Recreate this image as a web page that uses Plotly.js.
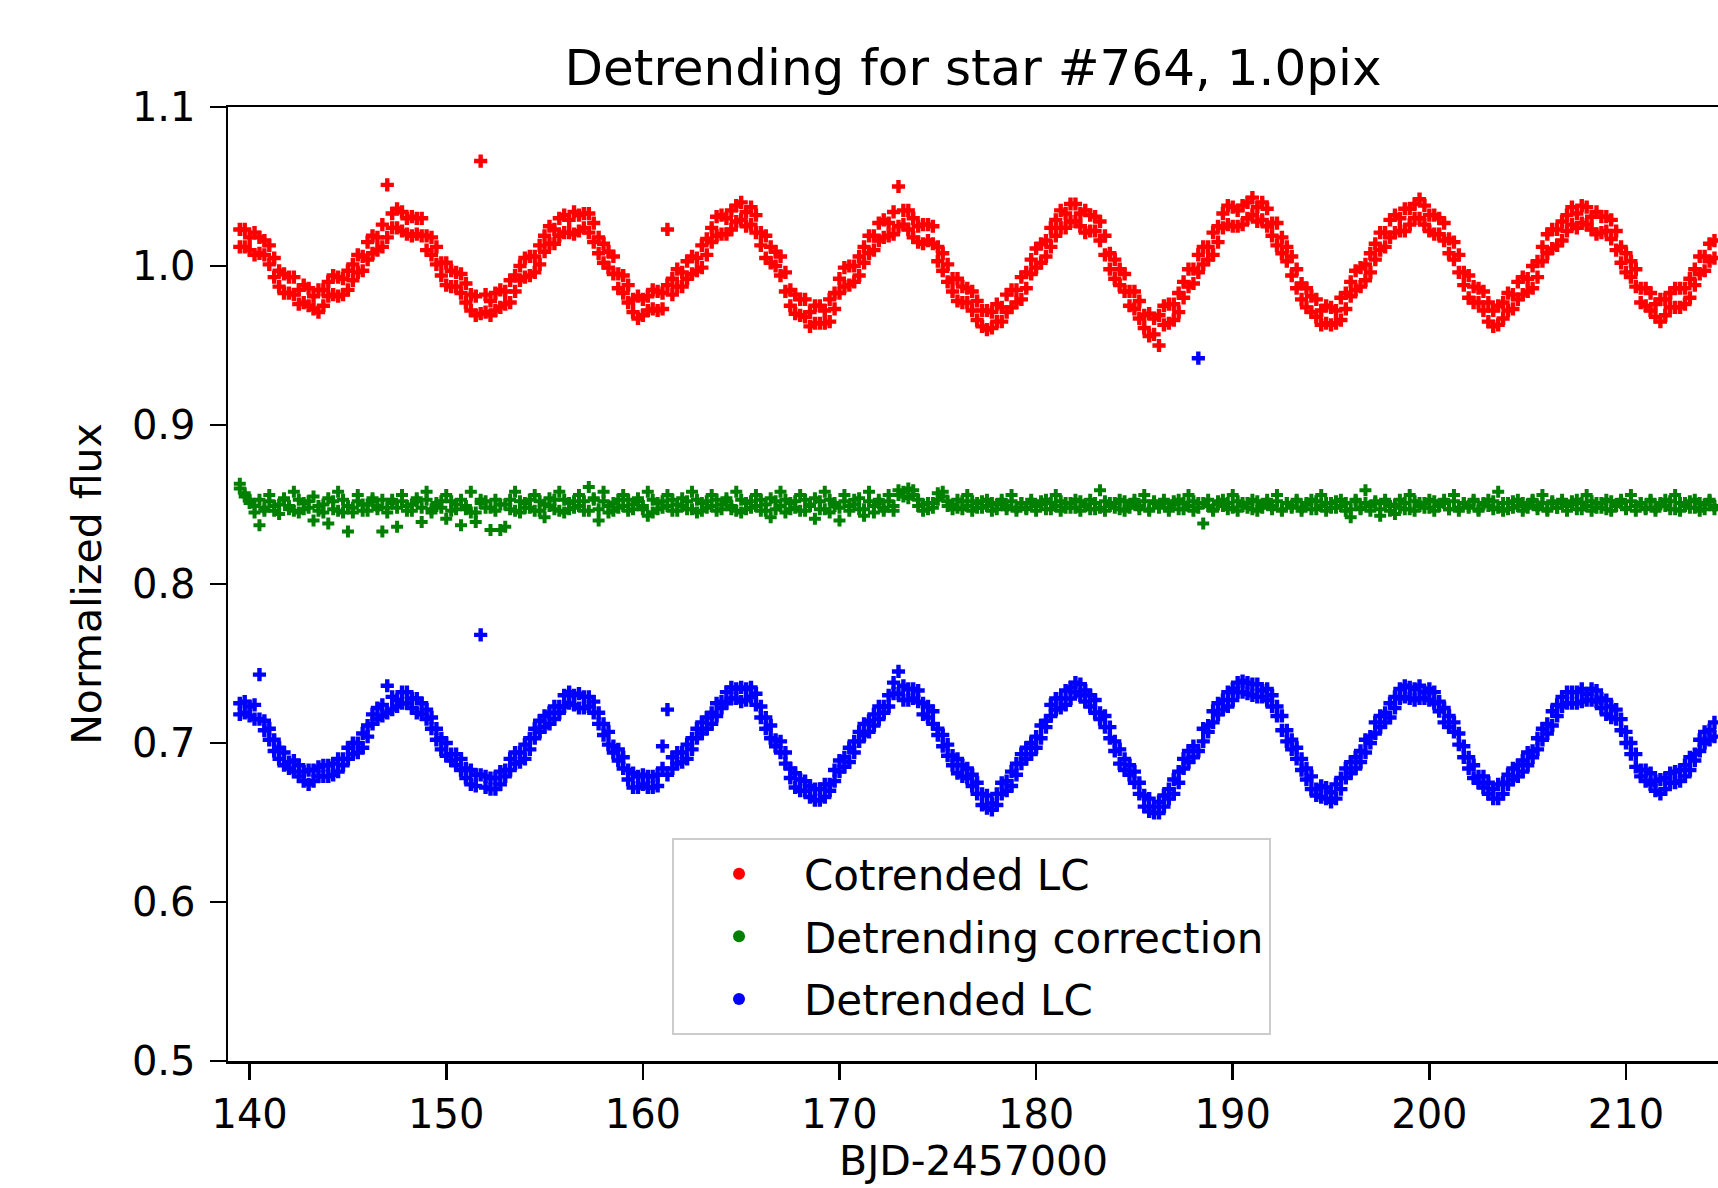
<!DOCTYPE html>
<html>
<head>
<meta charset="utf-8">
<script src="https://cdn.plot.ly/plotly-3.0.1.min.js"></script>
<style>html,body{margin:0;padding:0;background:#fff;}#chart{width:1718px;height:1188px;}</style>
</head>
<body>
<div id="chart"></div>
<script>
// ---- data ----
const chartTitle = "Detrending for star #764, 1.0pix";
const xAxisLabel = "BJD-2457000";
const yAxisLabel = "Normalized flux";
const seriesNames = ["Cotrended LC", "Detrending correction", "Detrended LC"];
const seriesColors = ["#ff0000", "#008000", "#0000ff"];
const xTickVals = [140, 150, 160, 170, 180, 190, 200, 210];
const xTickText = ["140", "150", "160", "170", "180", "190", "200", "210"];
const yTickVals = [0.5, 0.6, 0.7, 0.8, 0.9, 1.0, 1.1];
const yTickText = ["0.5", "0.6", "0.7", "0.8", "0.9", "1.0", "1.1"];

// observation times (BJD-2457000)
const days = [
139.5,139.75,
140,140.25,140.5,140.75, 141,141.25,141.5,141.75, 142,142.25,142.5,142.75, 143,143.25,143.5,143.75,
144,144.25,144.5,144.75, 145,145.25,145.5,145.75, 146,146.25,146.5,146.75, 147,147.25,147.5,147.75,
148,148.25,148.5,148.75, 149,149.25,149.5,149.75, 150,150.25,150.5,150.75, 151,151.25,151.5,151.75,
152,152.25,152.5,152.75, 153,153.25,153.5,153.75, 154,154.25,154.5,154.75, 155,155.25,155.5,155.75,
156,156.25,156.5,156.75, 157,157.25,157.5,157.75, 158,158.25,158.5,158.75, 159,159.25,159.5,159.75,
160,160.25,160.5,160.75, 161,161.25,161.5,161.75, 162,162.25,162.5,162.75, 163,163.25,163.5,163.75,
164,164.25,164.5,164.75, 165,165.25,165.5,165.75, 166,166.25,166.5,166.75, 167,167.25,167.5,167.75,
168,168.25,168.5,168.75, 169,169.25,169.5,169.75, 170,170.25,170.5,170.75, 171,171.25,171.5,171.75,
172,172.25,172.5,172.75, 173,173.25,173.5,173.75, 174,174.25,174.5,174.75, 175,175.25,175.5,175.75,
176,176.25,176.5,176.75, 177,177.25,177.5,177.75, 178,178.25,178.5,178.75, 179,179.25,179.5,179.75,
180,180.25,180.5,180.75, 181,181.25,181.5,181.75, 182,182.25,182.5,182.75, 183,183.25,183.5,183.75,
184,184.25,184.5,184.75, 185,185.25,185.5,185.75, 186,186.25,186.5,186.75, 187,187.25,187.5,187.75,
188,188.25,188.5,188.75, 189,189.25,189.5,189.75, 190,190.25,190.5,190.75, 191,191.25,191.5,191.75,
192,192.25,192.5,192.75, 193,193.25,193.5,193.75, 194,194.25,194.5,194.75, 195,195.25,195.5,195.75,
196,196.25,196.5,196.75, 197,197.25,197.5,197.75, 198,198.25,198.5,198.75, 199,199.25,199.5,199.75,
200,200.25,200.5,200.75, 201,201.25,201.5,201.75, 202,202.25,202.5,202.75, 203,203.25,203.5,203.75,
204,204.25,204.5,204.75, 205,205.25,205.5,205.75, 206,206.25,206.5,206.75, 207,207.25,207.5,207.75,
208,208.25,208.5,208.75, 209,209.25,209.5,209.75, 210,210.25,210.5,210.75, 211,211.25,211.5,211.75,
212,212.25,212.5,212.75, 213,213.25,213.5,213.75,
214,214.25,214.5
];

// Cotrended LC: two readings per time (upper / lower part of the noisy band)
const cotrendedLC = [
1.023,1.012,
1.018,1.007,1.018,1.007, 1.013,0.993,0.997,0.983, 0.993,0.982,0.985,0.988, 0.975,0.981,0.971,0.985,
0.981,0.994,0.981,0.992, 0.985,1.001,0.996,1.006, 1.015,1.008,1.018,1.012, 1.051,1.024,1.036,1.022,
1.030,1.019,1.030,1.019, 1.019,1.018,1.001,1.002, 0.988,0.997,0.987,0.995, 0.977,0.982,0.969,1.066,
0.971,0.978,0.983,0.974, 0.984,0.977,0.994,0.991, 1.005,0.994,1.006,1.001, 1.019,1.014,1.023,1.030,
1.021,1.029,1.020,1.032, 1.024,1.033,1.015,1.018, 1.002,1.009,0.995,0.995, 0.994,0.977,0.979,0.967,
0.979,0.972,0.985,0.972, 0.983,1.023,0.992,0.987, 0.996,1.003,0.995,1.005, 0.999,1.017,1.015,1.031,
1.020,1.030,1.023,1.038, 1.029,1.034,1.037,1.021, 1.021,1.005,1.012,1.000, 1.006,0.984,0.985,0.970,
0.979,0.968,0.971,0.975, 0.964,0.972,0.965,0.983, 0.983,0.999,0.988,1.000, 0.994,1.012,1.008,1.019,
1.027,1.018,1.027,1.020, 1.050,1.026,1.035,1.018, 1.025,1.014,1.026,1.014, 1.012,1.008,0.990,0.992,
0.978,0.987,0.977,0.984, 0.966,0.972,0.960,0.971, 0.965,0.974,0.982,0.974, 0.985,0.979,0.996,0.995,
1.011,1.002,1.016,1.012, 1.029,1.024,1.033,1.039, 1.028,1.033,1.021,1.032, 1.022,1.028,1.007,1.008,
0.992,0.998,0.984,0.984, 0.984,0.967,0.969,0.956, 0.967,0.950,0.975,0.964, 0.976,0.971,0.990,0.987,
0.998,1.007,1.001,1.012, 1.007,1.025,1.024,1.038, 1.025,1.035,1.026,1.040, 1.032,1.037,1.040,1.025,
1.027,1.013,1.018,1.003, 1.006,0.986,0.989,0.974, 0.981,0.968,0.972,0.975, 0.963,0.972,0.966,0.983,
0.981,0.997,0.987,1.001, 0.996,1.014,1.010,1.021, 1.029,1.021,1.030,1.022, 1.036,1.030,1.042,1.026,
1.032,1.020,1.030,1.016, 1.017,1.015,0.996,0.996, 0.980,0.987,0.977,0.984, 0.965,0.972,0.963,0.977,
0.972,0.982,0.990,0.982, 0.992,0.986,1.003,1.003, 1.020,1.011,1.023,1.016, 1.032,1.026,1.033,1.038,
1.026,1.031,1.020,1.031, 1.022,1.029,1.010,1.012, 0.996,1.003,0.987,0.986, 0.986,0.972,0.976,0.965,
0.979,0.974,0.986,0.974, 0.986,0.980,0.998,0.995,
1.006,1.014,1.005
];
const cotrendedLCb = [
1.012,1.023,
1.010,1.021,1.008,1.016, 1.001,1.005,0.987,0.995, 0.983,0.993,0.976,0.977, 0.986,0.973,0.985,0.975,
0.990,0.982,0.993,0.982, 0.997,0.991,1.007,0.997, 1.004,1.019,1.010,1.026, 1.018,1.033,1.024,1.034,
1.020,1.031,1.020,1.030, 1.010,1.007,1.012,0.994, 1.002,0.987,0.996,0.983, 0.989,0.972,0.981,0.970,
0.982,0.969,0.972,0.985, 0.976,0.991,0.984,1.000, 0.993,1.006,0.996,1.013, 1.009,1.025,1.014,1.019,
1.032,1.021,1.034,1.022, 1.033,1.021,1.027,1.008, 1.014,0.999,1.006,0.986, 0.983,0.988,0.971,0.981,
0.969,0.981,0.973,0.984, 0.973,0.988,0.982,0.998, 0.987,0.992,1.006,0.997, 1.013,1.007,1.024,1.019,
1.032,1.020,1.035,1.028, 1.040,1.025,1.026,1.032, 1.013,1.019,1.002,1.009, 0.994,0.996,0.975,0.982,
0.969,0.979,0.962,0.964, 0.975,0.964,0.979,0.973, 0.992,0.987,1.000,0.990, 1.006,1.002,1.019,1.010,
1.016,1.029,1.019,1.034, 1.025,1.035,1.023,1.030, 1.015,1.026,1.016,1.025, 1.003,0.997,1.001,0.984,
0.992,0.977,0.986,0.972, 0.978,0.962,0.972,0.961, 0.976,0.965,0.971,0.985, 0.977,0.993,0.986,1.004,
0.999,1.014,1.006,1.024, 1.019,1.035,1.024,1.028, 1.039,1.025,1.035,1.022, 1.031,1.016,1.019,0.998,
1.004,0.988,0.995,0.975, 0.973,0.978,0.961,0.970, 0.957,0.969,0.963,0.976, 0.966,0.983,0.980,0.998,
0.989,0.996,1.012,1.004, 1.021,1.015,1.033,1.026, 1.037,1.025,1.038,1.030, 1.043,1.028,1.029,1.036,
1.019,1.027,1.008,1.012, 0.994,0.998,0.979,0.986, 0.971,0.979,0.963,0.964, 0.974,0.964,0.980,0.973,
0.990,0.985,0.999,0.991, 1.008,1.004,1.021,1.012, 1.018,1.032,1.022,1.036, 1.026,1.039,1.030,1.038,
1.022,1.032,1.020,1.027, 1.008,1.004,1.007,0.988, 0.994,0.977,0.986,0.972, 0.977,0.962,0.975,0.967,
0.983,0.973,0.979,0.993, 0.984,1.000,0.993,1.012, 1.008,1.023,1.013,1.028, 1.022,1.037,1.024,1.027,
1.037,1.023,1.034,1.021, 1.031,1.017,1.022,1.002, 1.008,0.993,0.998,0.977, 0.975,0.983,0.968,0.979,
0.969,0.983,0.974,0.986, 0.976,0.992,0.988,1.006,
0.997,1.003,1.016
];

// Detrending correction (offset to ~0.85 in the plot)
const detrendingCorrection = [
0.863,0.857,
0.853,0.845,0.837,0.848, 0.856,0.846,0.850,0.854, 0.847,0.858,0.845,0.851, 0.848,0.840,0.846,0.850,
0.854,0.847,0.858,0.845, 0.833,0.848,0.856,0.846, 0.850,0.854,0.847,0.833, 0.845,0.851,0.848,0.856,
0.846,0.850,0.854,0.839, 0.858,0.845,0.851,0.848, 0.856,0.846,0.850,0.837, 0.847,0.858,0.845,0.851,
0.848,0.834,0.846,0.850, 0.836,0.847,0.858,0.845, 0.851,0.848,0.856,0.846, 0.850,0.854,0.847,0.858,
0.845,0.851,0.848,0.856, 0.846,0.861,0.854,0.847, 0.858,0.845,0.851,0.848, 0.856,0.846,0.850,0.854,
0.847,0.858,0.845,0.851, 0.848,0.856,0.846,0.850, 0.854,0.847,0.858,0.845, 0.851,0.848,0.856,0.846,
0.850,0.854,0.847,0.858, 0.845,0.851,0.848,0.856, 0.846,0.850,0.854,0.847, 0.858,0.845,0.851,0.848,
0.856,0.846,0.850,0.854, 0.847,0.858,0.845,0.851, 0.848,0.856,0.846,0.850, 0.854,0.847,0.858,0.845,
0.851,0.848,0.856,0.846, 0.859,0.855,0.860,0.856, 0.853,0.850,0.847,0.851, 0.857,0.855,0.852,0.847,
0.853,0.847,0.856,0.846, 0.851,0.848,0.853,0.846, 0.850,0.853,0.847,0.856, 0.846,0.851,0.848,0.853,
0.846,0.850,0.853,0.847, 0.856,0.846,0.851,0.848, 0.853,0.846,0.850,0.853, 0.847,0.859,0.846,0.851,
0.848,0.853,0.846,0.850, 0.853,0.847,0.856,0.846, 0.851,0.848,0.853,0.846, 0.850,0.853,0.847,0.856,
0.846,0.851,0.838,0.853, 0.846,0.850,0.853,0.847, 0.856,0.846,0.851,0.848, 0.853,0.846,0.850,0.853,
0.847,0.856,0.846,0.851, 0.848,0.853,0.846,0.850, 0.853,0.847,0.856,0.846, 0.851,0.848,0.853,0.846,
0.842,0.853,0.847,0.859, 0.846,0.851,0.843,0.853, 0.846,0.850,0.853,0.847, 0.856,0.846,0.851,0.848,
0.853,0.846,0.850,0.853, 0.847,0.856,0.846,0.851, 0.848,0.853,0.846,0.850, 0.853,0.847,0.858,0.846,
0.851,0.848,0.853,0.846, 0.850,0.853,0.847,0.856, 0.846,0.851,0.848,0.853, 0.846,0.850,0.853,0.847,
0.856,0.846,0.851,0.848, 0.853,0.846,0.850,0.853, 0.847,0.856,0.846,0.851, 0.848,0.853,0.846,0.850,
0.853,0.847,0.856,0.846, 0.851,0.848,0.853,0.846,
0.850,0.853,0.847
];
const detrendingCorrectionb = [
0.860,0.855,
0.851,0.849,0.853,0.846, 0.852,0.849,0.844,0.853, 0.849,0.846,0.853,0.847, 0.852,0.855,0.849,0.845,
0.838,0.852,0.846,0.853, 0.849,0.845,0.852,0.850, 0.846,0.852,0.849,0.853, 0.848,0.853,0.836,0.852,
0.849,0.846,0.852,0.848, 0.853,0.847,0.849,0.852, 0.841,0.852,0.847,0.853, 0.849,0.845,0.839,0.853,
0.852,0.848,0.853,0.834, 0.850,0.853,0.846,0.852, 0.848,0.853,0.846,0.852, 0.842,0.849,0.853,0.846,
0.853,0.847,0.852,0.849, 0.852,0.846,0.853,0.840, 0.852,0.849,0.846,0.853, 0.849,0.853,0.847,0.852,
0.849,0.843,0.853,0.847, 0.852,0.849,0.853,0.846, 0.849,0.852,0.847,0.853, 0.846,0.852,0.849,0.853,
0.847,0.852,0.849,0.846, 0.853,0.847,0.852,0.849, 0.853,0.846,0.842,0.852, 0.849,0.853,0.847,0.852,
0.846,0.853,0.849,0.841, 0.852,0.847,0.853,0.849, 0.840,0.852,0.849,0.853, 0.847,0.843,0.852,0.849,
0.853,0.846,0.852,0.849, 0.856,0.858,0.854,0.859, 0.849,0.846,0.851,0.848, 0.853,0.858,0.849,0.850,
0.848,0.852,0.849,0.852, 0.848,0.852,0.849,0.851, 0.847,0.851,0.849,0.852, 0.848,0.851,0.847,0.851,
0.849,0.852,0.847,0.851, 0.849,0.852,0.848,0.851, 0.848,0.852,0.849,0.847, 0.851,0.848,0.852,0.849,
0.851,0.847,0.852,0.848, 0.851,0.849,0.852,0.847, 0.852,0.849,0.851,0.848, 0.852,0.847,0.851,0.849,
0.852,0.848,0.851,0.849, 0.847,0.852,0.849,0.851, 0.848,0.852,0.849,0.851, 0.847,0.852,0.848,0.851,
0.849,0.852,0.847,0.851, 0.849,0.852,0.848,0.851, 0.847,0.852,0.849,0.851, 0.848,0.852,0.849,0.851,
0.847,0.852,0.848,0.851, 0.849,0.852,0.847,0.851, 0.849,0.844,0.848,0.851, 0.847,0.852,0.849,0.851,
0.848,0.852,0.849,0.851, 0.847,0.852,0.848,0.851, 0.849,0.852,0.847,0.851, 0.849,0.852,0.848,0.851,
0.847,0.852,0.849,0.851, 0.848,0.852,0.849,0.851, 0.847,0.852,0.848,0.851, 0.849,0.852,0.847,0.851,
0.849,0.852,0.848,0.851, 0.847,0.852,0.849,0.851, 0.848,0.852,0.849,0.851, 0.847,0.852,0.848,0.851,
0.849,0.852,0.847,0.851, 0.849,0.852,0.848,0.851,
0.847,0.852,0.849
];

// Detrended LC
const detrendedLC = [
0.725,0.719,
0.723,0.715,0.743,0.708, 0.709,0.695,0.697,0.686, 0.688,0.689,0.679,0.682, 0.674,0.683,0.679,0.686,
0.679,0.687,0.682,0.690, 0.697,0.693,0.700,0.697, 0.711,0.712,0.722,0.717, 0.736,0.721,0.727,0.732,
0.725,0.728,0.719,0.725, 0.715,0.716,0.702,0.703, 0.692,0.693,0.693,0.683, 0.684,0.674,0.680,0.768,
0.679,0.671,0.678,0.674, 0.683,0.690,0.687,0.694, 0.690,0.703,0.703,0.714, 0.710,0.719,0.715,0.723,
0.730,0.725,0.730,0.722, 0.729,0.723,0.726,0.712, 0.712,0.699,0.698,0.696, 0.684,0.683,0.672,0.679,
0.674,0.679,0.672,0.680, 0.698,0.721,0.691,0.687, 0.694,0.690,0.703,0.703, 0.713,0.709,0.719,0.717,
0.726,0.732,0.728,0.734, 0.726,0.734,0.729,0.731, 0.716,0.716,0.703,0.702, 0.701,0.687,0.684,0.672,
0.677,0.670,0.673,0.664, 0.671,0.666,0.674,0.683, 0.682,0.691,0.688,0.701, 0.701,0.712,0.707,0.718,
0.715,0.723,0.730,0.731, 0.745,0.727,0.734,0.728, 0.733,0.718,0.723,0.712, 0.709,0.705,0.692,0.692,
0.681,0.686,0.678,0.680, 0.668,0.668,0.659,0.662, 0.668,0.668,0.676,0.673, 0.687,0.687,0.697,0.693,
0.704,0.703,0.714,0.724, 0.721,0.728,0.724,0.735, 0.732,0.737,0.726,0.730, 0.719,0.719,0.717,0.703,
0.701,0.687,0.690,0.680, 0.682,0.668,0.667,0.657, 0.660,0.663,0.660,0.671, 0.668,0.682,0.684,0.695,
0.691,0.942,0.701,0.711, 0.720,0.718,0.727,0.723, 0.734,0.732,0.739,0.731, 0.737,0.729,0.733,0.734,
0.723,0.723,0.708,0.708, 0.696,0.697,0.683,0.684, 0.671,0.671,0.673,0.665, 0.669,0.665,0.678,0.678,
0.688,0.684,0.695,0.694, 0.704,0.713,0.710,0.719, 0.716,0.729,0.728,0.736, 0.728,0.734,0.728,0.732,
0.734,0.725,0.726,0.713, 0.717,0.707,0.706,0.691, 0.691,0.678,0.679,0.679, 0.668,0.671,0.665,0.675,
0.674,0.684,0.679,0.689, 0.686,0.695,0.703,0.702, 0.712,0.711,0.724,0.723, 0.732,0.725,0.732,0.726,
0.731,0.734,0.726,0.728, 0.718,0.723,0.715,0.715, 0.700,0.700,0.685,0.683, 0.683,0.674,0.676,0.668,
0.678,0.675,0.682,0.676, 0.686,0.683,0.693,0.702,
0.700,0.708,0.704
];
const detrendedLCb = [
0.718,0.726,
0.717,0.724,0.715,0.714, 0.702,0.702,0.690,0.694, 0.684,0.682,0.686,0.676, 0.683,0.676,0.685,0.679,
0.686,0.680,0.690,0.686, 0.690,0.700,0.694,0.706, 0.704,0.718,0.715,0.724, 0.719,0.729,0.723,0.725,
0.732,0.722,0.728,0.718, 0.721,0.709,0.709,0.696, 0.700,0.689,0.686,0.690, 0.678,0.683,0.673,0.680,
0.672,0.678,0.671,0.682, 0.679,0.683,0.694,0.688, 0.699,0.696,0.709,0.707, 0.717,0.712,0.723,0.719,
0.723,0.732,0.724,0.731, 0.722,0.729,0.719,0.719, 0.705,0.707,0.694,0.689, 0.691,0.677,0.681,0.672,
0.680,0.672,0.679,0.673, 0.684,0.680,0.684,0.694, 0.688,0.699,0.696,0.709, 0.706,0.716,0.712,0.725,
0.722,0.725,0.735,0.728, 0.735,0.727,0.735,0.724, 0.723,0.709,0.711,0.698, 0.694,0.694,0.678,0.681,
0.670,0.676,0.666,0.671, 0.664,0.674,0.670,0.676, 0.689,0.685,0.697,0.694, 0.707,0.705,0.714,0.711,
0.723,0.719,0.723,0.738, 0.731,0.736,0.727,0.734, 0.726,0.725,0.716,0.720, 0.705,0.698,0.699,0.686,
0.690,0.679,0.684,0.673, 0.675,0.661,0.667,0.658, 0.661,0.675,0.670,0.682, 0.680,0.693,0.690,0.700,
0.697,0.711,0.710,0.717, 0.728,0.722,0.733,0.728, 0.738,0.730,0.733,0.723, 0.727,0.715,0.710,0.710,
0.695,0.696,0.683,0.686, 0.675,0.675,0.660,0.665, 0.656,0.656,0.667,0.665, 0.677,0.675,0.690,0.688,
0.698,0.695,0.709,0.707, 0.713,0.725,0.721,0.732, 0.727,0.738,0.732,0.738, 0.730,0.737,0.729,0.727,
0.730,0.717,0.717,0.701, 0.702,0.690,0.690,0.677, 0.679,0.667,0.666,0.672, 0.663,0.674,0.671,0.684,
0.681,0.691,0.688,0.702, 0.700,0.706,0.717,0.713, 0.725,0.722,0.734,0.729, 0.735,0.727,0.736,0.728,
0.727,0.732,0.720,0.722, 0.710,0.713,0.699,0.698, 0.684,0.686,0.675,0.672, 0.675,0.665,0.674,0.668,
0.680,0.677,0.686,0.682, 0.694,0.691,0.696,0.709, 0.706,0.720,0.717,0.729, 0.725,0.732,0.725,0.734,
0.727,0.727,0.733,0.722, 0.727,0.716,0.721,0.708, 0.707,0.693,0.693,0.679, 0.676,0.681,0.670,0.677,
0.671,0.681,0.675,0.683, 0.679,0.691,0.689,0.695,
0.707,0.702,0.713
];

// ---- drawing ----
const FONT = "DejaVu Sans, Liberation Sans, sans-serif";
const seriesValues = [
  [cotrendedLC, cotrendedLCb],
  [detrendingCorrection, detrendingCorrectionb],
  [detrendedLC, detrendedLCb]
];
const markerSizes = [11, 10, 11];

const traces = [];
seriesValues.forEach((pair, k) => {
  traces.push({
    type: "scatter", mode: "markers",
    x: days.concat(days), y: pair[0].concat(pair[1]),
    showlegend: false, hoverinfo: "skip",
    marker: {symbol: "cross", size: markerSizes[k], color: seriesColors[k], line: {width: 0}}
  });
});
// legend entries (matplotlib legend shows round markers)
seriesNames.forEach((name, k) => {
  traces.push({
    type: "scatter", mode: "markers",
    x: [null], y: [null], name: name, legendgroup: "g" + k,
    marker: {symbol: "circle", size: 12, color: seriesColors[k]}
  });
});

const axisCommon = {
  ticks: "outside", ticklen: 16, tickwidth: 2.5, tickcolor: "#000",
  showline: true, linewidth: 2.5, linecolor: "#000",
  showgrid: false, zeroline: false,
  tickfont: {family: FONT, size: 40, color: "#000"}
};

const layout = {
  width: 1718, height: 1188,
  margin: {l: 228, r: 0, t: 107, b: 127, pad: 0},
  paper_bgcolor: "#fff", plot_bgcolor: "#fff",
  font: {family: FONT, size: 40, color: "#000"},
  title: {
    text: chartTitle, font: {family: FONT, size: 50, color: "#000"},
    x: 0.5, xref: "paper", xanchor: "center",
    y: 1 - 67 / 1188, yref: "container", yanchor: "middle"
  },
  xaxis: Object.assign({}, axisCommon, {
    range: [138.9, 214.68], tickmode: "array", tickvals: xTickVals, ticktext: xTickText,
    mirror: true
  }),
  yaxis: Object.assign({}, axisCommon, {
    range: [0.5, 1.1], tickmode: "array", tickvals: yTickVals, ticktext: yTickText,
    ticklabelstandoff: 6,
    title: {text: yAxisLabel, font: {family: FONT, size: 41, color: "#000"}, standoff: 18}
  }),
  annotations: [{
    text: xAxisLabel, xref: "paper", yref: "paper", x: 0.5, y: 0,
    xanchor: "center", yanchor: "middle", yshift: -100, showarrow: false,
    font: {family: FONT, size: 41, color: "#000"}
  }],
  showlegend: true,
  legend: {
    x: 0.298, y: 0.2338, xanchor: "left", yanchor: "top",
    xref: "paper", yref: "paper",
    bgcolor: "rgba(255,255,255,0.8)", bordercolor: "#cccccc", borderwidth: 2,
    font: {family: FONT, size: 42, color: "#000"},
    itemwidth: 120, tracegroupgap: 5, traceorder: "grouped"
  }
};

Plotly.newPlot("chart", traces, layout, {displayModeBar: false, staticPlot: true});
</script>
</body>
</html>
